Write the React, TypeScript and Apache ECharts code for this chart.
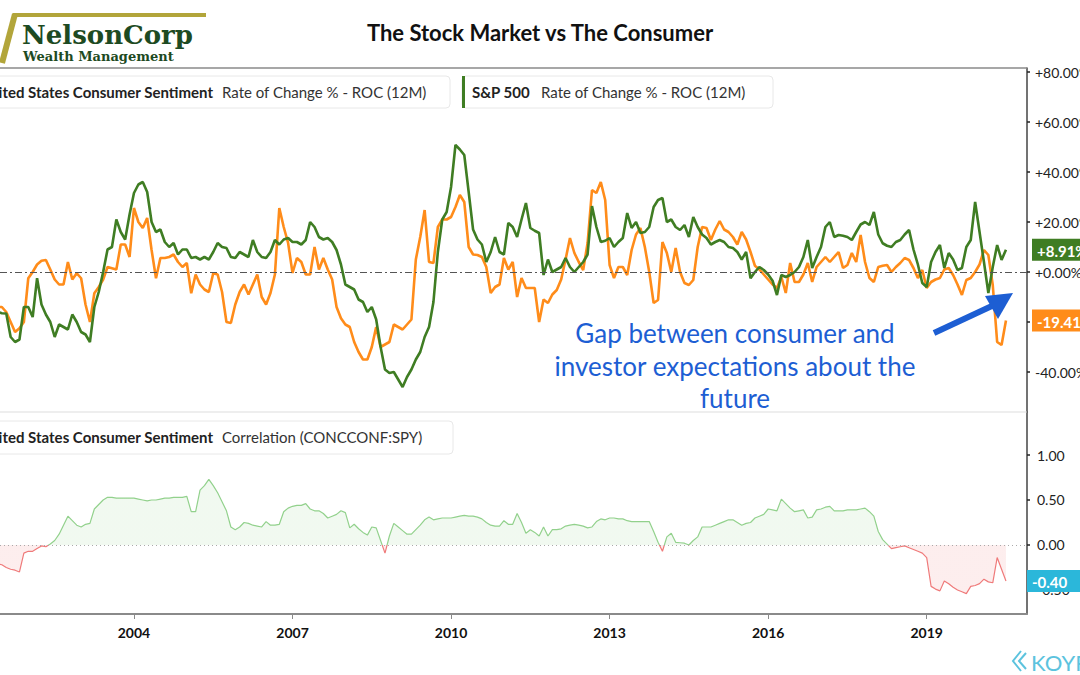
import React, { useEffect, useRef } from "react";
import * as echarts from "echarts";

// Monthly observations starting June 2001
const START_YEAR = 2001;
const START_MONTH = 6;

const xTickYears = [2004, 2007, 2010, 2013, 2016, 2019];
const rocTicks = [-40, -20, 0, 20, 40, 60, 80];
const rocLabels = [-40, 0, 20, 40, 60, 80]; // -20 sits under the value tag
const corrTicks = [-0.5, 0, 0.5, 1];

// United States Consumer Sentiment, Rate of Change % (12M)
const sentimentRoc = [
  -14, -14, -16, -20, -24, -22.5, -20, -2.5, 0, 3,
  4.5, 4.8, 1, -3, -5, -5, 4, -3, -0.5, -2.5,
  -13, -20, -8.5, -6, -3, 2, 1.5, 1, 11, 11,
  6, 25.6, 20, 17.6, 21.6, 8.8, -2.5, 5.6, 5.6, 6,
  7, 4, 2, 3.6, -8.5, -1, -5, -7, -8, -0.5,
  -1, -8, -20, -20.4, -13, -8, -5, -9, -5, -1,
  -10, -13, -8.4, -1, 25.6, 18, 11.6, -0.4, 5.6, 4,
  -1, -1, 10, 1, 5.6, 1, -3, -14, -18.5, -21,
  -22, -28, -32, -35, -35, -30, -22, -30, -29, -28,
  -21, -22, -23, -21, -19, 5, 14, 24.8, 4, 3.6,
  18, 21, 21, 22, 26, 30.8, 28, 10, 7, 6.8,
  6, 2, -8.4, -6, -5, 5.6, 1, 4, -10, -2.4,
  -6.4, -6.4, -6.4, -20, -11, -12.4, -9, -7.2, -3, 5,
  13.6, 7.6, 4, 0.8, 11.6, 32.8, 31.6, 36, 28.8, 2.8,
  -2.4, 2, 2, -1.2, 8.8, 15, 17.6, 10, 0, -12.4,
  -11.2, 12, 7.6, 0, 9.6, 0, -4.4, -5.2, -3.2, 10,
  18, 17.6, 12.8, 17, 20.4, 17, 16, 14, 11, 16,
  13, 8, 2.5, 1, -1, -3, -5, -6.4, -2, -8.4,
  3.6, -4, -4, -1, 3.6, -4, 2, 4, 6, 4,
  6, 8, 1.6, 2.8, 7.6, 4, 14.8, 4, -2.4, -4,
  2, 2.5, 2.8, 0, 2, 3.6, 5.6, 4.8, 1.6, -2.4,
  0.8, -6.4, -4, -3, -2.4, 1, 1.6, -1.2, -5, -9.2,
  -3.2, -2.4, 0, 3, 8.8, 6.8, -5.2, -28, -29.2, -19.41,
];

// S&P 500, Rate of Change % (12M)
const sp500Roc = [
  -16, -16.5, -16.6, -26, -28, -27, -14, -14, -18, -2.5,
  -13, -17, -20, -26, -21, -22, -23, -17, -20, -24,
  -25, -28, -14, -8, 0, 9, 10, 21, 16, 13,
  23, 31.6, 35, 36, 32, 20, 16, 17, 12, 10,
  11.6, 7, 9, 9, 5.6, 6, 5, 6, 5, 8,
  11.6, 10, 9.6, 6, 5.6, 8, 7, 6, 12.8, 8,
  6, 5.6, 8, 12.8, 11, 13, 13.6, 12, 12, 11,
  12.8, 20, 18, 14, 13, 13.6, 12, 8.8, 3, -5,
  -6, -7, -11, -12, -16, -14, -19, -30, -39, -40.4,
  -40, -43, -46, -42, -39, -35, -32, -26, -22, -12,
  8, 21, 24, 34, 50.8, 49, 46.8, 32, 17, 13,
  11, 4, 8, 14, 8, 7, 19.6, 18, 14, 21,
  27.6, 17.6, 16.5, 15.6, -1.2, 5, 0, 1, 2, 5.6,
  2, 0, 2, 4, 7, 26.4, 18, 12, 12.5, 13.6,
  10, 12, 13.6, 23.6, 17.6, 20, 15.6, 16, 18, 26,
  28.8, 29.6, 20, 21, 18, 16.8, 18.8, 14, 22, 18,
  15, 13.6, 11, 12, 12.8, 12, 10, 9.6, 8, 5,
  8, -2.5, 0, 2, 0.8, -1, -3.5, -9.2, -1.2, -2,
  -1.2, 0, 2, 6, 12.8, 1.6, 6, 10, 18, 20,
  14, 14.8, 14.5, 14, 12.8, 16, 19, 20, 18.8, 24,
  15, 11.5, 10.5, 10, 12, 12.8, 15, 16.8, 9, 3,
  -4.4, -6, 4, 8, 10.8, 1.6, 7.6, 5, 0.8, 1.6,
  10, 12.8, 28, 16, 4, -8.4, 2, 10.8, 4.8, 8.91,
];

// Correlation (CONCCONF:SPY)
const correlation = [
  -0.21, -0.22, -0.25, -0.27, -0.28, -0.30, -0.09, -0.07, -0.07, -0.04,
  -0.01, -0.02, 0.01, 0.05, 0.12, 0.22, 0.32, 0.27, 0.22, 0.20,
  0.23, 0.24, 0.40, 0.45, 0.50, 0.53, 0.53, 0.52, 0.52, 0.52,
  0.52, 0.52, 0.51, 0.50, 0.49, 0.50, 0.50, 0.51, 0.52, 0.52,
  0.53, 0.53, 0.53, 0.54, 0.37, 0.37, 0.61, 0.66, 0.73, 0.66,
  0.58, 0.48, 0.38, 0.20, 0.17, 0.20, 0.25, 0.24, 0.22, 0.21,
  0.20, 0.26, 0.22, 0.22, 0.23, 0.37, 0.41, 0.43, 0.44, 0.44,
  0.46, 0.40, 0.38, 0.38, 0.35, 0.30, 0.32, 0.34, 0.38, 0.36,
  0.19, 0.23, 0.18, 0.14, 0.11, 0.20, 0.19, 0.05, -0.09, 0.10,
  0.24, 0.20, 0.16, 0.12, 0.12, 0.17, 0.22, 0.28, 0.31, 0.28,
  0.29, 0.30, 0.30, 0.30, 0.31, 0.32, 0.33, 0.32, 0.32, 0.31,
  0.29, 0.25, 0.22, 0.21, 0.21, 0.27, 0.23, 0.23, 0.35, 0.25,
  0.13, 0.17, 0.14, 0.10, 0.20, 0.10, 0.17, 0.17, 0.18, 0.21,
  0.22, 0.23, 0.22, 0.21, 0.19, 0.20, 0.26, 0.29, 0.28, 0.30,
  0.30, 0.29, 0.29, 0.27, 0.26, 0.26, 0.26, 0.26, 0.26, 0.15,
  0.03, -0.07, 0.09, 0.13, 0.03, 0.025, 0.02, 0.0, 0.05, 0.09,
  0.20, 0.20, 0.20, 0.22, 0.24, 0.26, 0.28, 0.28, 0.25, 0.22,
  0.24, 0.25, 0.30, 0.32, 0.34, 0.40, 0.39, 0.38, 0.51, 0.46,
  0.41, 0.37, 0.38, 0.39, 0.30, 0.31, 0.39, 0.40, 0.42, 0.43,
  0.38, 0.38, 0.38, 0.39, 0.39, 0.39, 0.40, 0.41, 0.37, 0.32,
  0.15, 0.06, 0.01, -0.04, -0.03, -0.02, -0.01, -0.03, -0.05, -0.07,
  -0.09, -0.14, -0.46, -0.49, -0.51, -0.40, -0.43, -0.47, -0.50, -0.52,
  -0.54, -0.46, -0.45, -0.43, -0.38, -0.41, -0.42, -0.14, -0.27, -0.40,
];

const ORANGE = "#ff8c1a";
const GREEN = "#3f7d23";
const CYAN = "#2bb7da";
const BLUE = "#1d5ed3";
const CORR_POS = "#92d18c";
const CORR_NEG = "#ef7a7a";
const FONT = "Lato, 'Open Sans', sans-serif";
const SERIF = "'DejaVu Serif', 'Liberation Serif', serif";

const toPoints = (arr: number[]) =>
  arr.map((v, i) => [START_YEAR + (START_MONTH - 1) / 12 + i / 12, v]);

const txt = (x: number, y: number, text: string, extra: any = {}) => ({
  type: "text",
  z: 100,
  x,
  y,
  style: {
    text,
    fill: "#222",
    fontSize: 15,
    fontFamily: FONT,
    align: "left",
    verticalAlign: "middle",
    textAlign: "left",
    textVerticalAlign: "middle",
    ...extra,
  },
});

export default function App() {
  const ref = useRef<HTMLDivElement>(null);

  useEffect(() => {
    if (!ref.current) return;
    const chart = echarts.init(ref.current, null, { renderer: "svg" });

    const xMin = 2001.465;
    const xMax = 2020.898;

    const option: any = {
      animation: false,
      backgroundColor: "#ffffff",
      textStyle: { fontFamily: FONT },
      grid: [
        { left: 0, right: 53, top: 68, height: 344, containLabel: false, outerBoundsMode: "none" },
        { left: 0, right: 53, top: 412, height: 202, containLabel: false, outerBoundsMode: "none" },
      ],
      xAxis: [
        {
          type: "value",
          gridIndex: 0,
          min: xMin,
          max: xMax,
          axisLine: { show: false },
          axisTick: { show: false },
          axisLabel: { show: false },
          splitLine: { show: false },
        },
        {
          type: "value",
          gridIndex: 1,
          min: xMin,
          max: xMax,
          axisLine: { show: true, onZero: false, lineStyle: { color: "#8a8a8a", width: 2 } },
          axisTick: {
            show: true,
            customValues: xTickYears,
            length: 5,
            lineStyle: { color: "#8a8a8a", width: 1 },
          },
          axisLabel: {
            show: true,
            customValues: xTickYears,
            formatter: (v: number) => String(Math.round(v)),
            fontFamily: FONT,
            fontWeight: "bold",
            fontSize: 14,
            color: "#111",
            margin: 11,
          },
          splitLine: { show: false },
        },
      ],
      yAxis: [
        {
          type: "value",
          gridIndex: 0,
          position: "right",
          min: -56,
          max: 81.6,
          axisLine: { show: true, lineStyle: { color: "#444", width: 1.5 } },
          axisTick: {
            show: true,
            customValues: rocTicks,
            length: 3,
            lineStyle: { color: "#222", width: 1.5 },
          },
          axisLabel: {
            show: true,
            customValues: rocLabels,
            formatter: (v: number) => (v >= 0 ? "+" : "") + v.toFixed(2) + "%",
            fontFamily: FONT,
            fontSize: 14,
            color: "#222",
            margin: 8,
          },
          splitLine: { show: false },
        },
        {
          type: "value",
          gridIndex: 1,
          position: "right",
          min: -0.767,
          max: 1.478,
          axisLine: { show: true, lineStyle: { color: "#444", width: 1.5 } },
          axisTick: {
            show: true,
            customValues: corrTicks,
            length: 3,
            lineStyle: { color: "#222", width: 1.5 },
          },
          axisLabel: {
            show: true,
            customValues: corrTicks,
            formatter: (v: number) => v.toFixed(2),
            fontFamily: FONT,
            fontSize: 14,
            color: "#222",
            margin: 10,
          },
          splitLine: { show: false },
        },
      ],
      series: [
        {
          id: "sent",
          name: "United States Consumer Sentiment",
          type: "line",
          xAxisIndex: 0,
          yAxisIndex: 0,
          data: toPoints(sentimentRoc),
          showSymbol: false,
          symbol: "none",
          lineStyle: { color: ORANGE, width: 2.6 },
          itemStyle: { color: ORANGE },
          z: 3,
          markLine: {
            silent: true,
            symbol: "none",
            label: { show: false },
            lineStyle: { color: "#555", type: [7, 3, 2, 3], width: 1 },
            data: [{ yAxis: 0 }],
          },
        },
        {
          id: "spx",
          name: "S&P 500",
          type: "line",
          xAxisIndex: 0,
          yAxisIndex: 0,
          data: toPoints(sp500Roc),
          showSymbol: false,
          symbol: "none",
          lineStyle: { color: GREEN, width: 2.6 },
          itemStyle: { color: GREEN },
          z: 4,
        },
        {
          id: "corr",
          name: "Correlation",
          type: "line",
          xAxisIndex: 1,
          yAxisIndex: 1,
          data: toPoints(correlation),
          showSymbol: false,
          symbol: "none",
          lineStyle: { width: 1.2, color: CORR_POS },
          areaStyle: { opacity: 0.13, color: CORR_POS },
          markLine: {
            silent: true,
            symbol: "none",
            label: { show: false },
            lineStyle: { color: "#aaa", type: [1, 3], width: 1 },
            data: [{ yAxis: 0 }],
          },
        },
      ],
    };

    chart.setOption(option);

    // split colour at the correlation zero line, located through the axis scale
    const yTop = chart.convertToPixel({ yAxisIndex: 1 }, 1.478) as number;
    const yBot = chart.convertToPixel({ yAxisIndex: 1 }, -0.767) as number;
    const yZero = chart.convertToPixel({ yAxisIndex: 1 }, 0) as number;
    const f = (yZero - yTop) / (yBot - yTop);
    const split = (pos: string, neg: string) =>
      new echarts.graphic.LinearGradient(
        0, yTop, 0, yBot,
        [
          { offset: 0, color: pos },
          { offset: f, color: pos },
          { offset: f, color: neg },
          { offset: 1, color: neg },
        ],
        true
      );

    const last = sp500Roc.length - 1;
    const yGreen = chart.convertToPixel({ yAxisIndex: 0 }, sp500Roc[last]) as number;
    const yOrange = chart.convertToPixel({ yAxisIndex: 0 }, sentimentRoc[last]) as number;
    const yCorr = chart.convertToPixel({ yAxisIndex: 1 }, correlation[last]) as number;

    const tag = (x: number, y: number, w: number, color: string, label: string) => [
      { type: "rect", z: 100, shape: { x, y: y - 11, width: w, height: 22 }, style: { fill: color } },
      txt(x + 5, y + 1, label, { fill: "#fff", fontSize: 15, fontWeight: "bold" }),
    ];

    const elements: any[] = [
      // Logo
      { type: "line", z: 100, shape: { x1: 13, y1: 15, x2: 206, y2: 15 }, style: { stroke: "#b2a53a", lineWidth: 4 } },
      { type: "line", z: 100, shape: { x1: 15, y1: 14, x2: 2, y2: 63 }, style: { stroke: "#b2a53a", lineWidth: 6 } },
      txt(22, 35, "NelsonCorp", {
        fill: "#1d4a22",
        fontSize: 26,
        fontWeight: "bold",
        fontFamily: SERIF,
      }),
      txt(23, 56, "Wealth Management", {
        fill: "#1d4a22",
        fontSize: 13,
        fontWeight: "bold",
        fontFamily: SERIF,
      }),
      // Title
      txt(540, 32, "The Stock Market vs The Consumer", {
        fill: "#111",
        fontSize: 22,
        fontWeight: "bold",
        align: "center",
        textAlign: "center",
      }),
      // frame lines
      { type: "line", z: 100, shape: { x1: 0, y1: 68, x2: 1027, y2: 68 }, style: { stroke: "#8a8a8a", lineWidth: 1.5 } },
      { type: "line", z: 100, shape: { x1: 0, y1: 412, x2: 1027, y2: 412 }, style: { stroke: "#dddddd", lineWidth: 1 } },
      // Legend box 1
      { type: "rect", z: 100, shape: { x: -220, y: 76, width: 670, height: 32, r: 4 }, style: { fill: "#fff", stroke: "#e8e8e8", lineWidth: 1 } },
      txt(213, 92, "United States Consumer Sentiment", { fontWeight: "bold", align: "right", textAlign: "right", fill: "#222" }),
      txt(222, 92, "Rate of Change % - ROC (12M)", { fill: "#333" }),
      // Legend box 2
      { type: "rect", z: 100, shape: { x: 462, y: 76, width: 311, height: 32, r: 4 }, style: { fill: "#fff", stroke: "#e8e8e8", lineWidth: 1 } },
      { type: "rect", z: 101, shape: { x: 462, y: 76, width: 3, height: 32 }, style: { fill: GREEN } },
      txt(472, 92, "S&P 500", { fontWeight: "bold", fill: "#222" }),
      txt(541, 92, "Rate of Change % - ROC (12M)", { fill: "#333" }),
      // Legend box 3
      { type: "rect", z: 100, shape: { x: -220, y: 421, width: 673, height: 33, r: 4 }, style: { fill: "#fff", stroke: "#e8e8e8", lineWidth: 1 } },
      txt(213, 437, "United States Consumer Sentiment", { fontWeight: "bold", align: "right", textAlign: "right", fill: "#222" }),
      txt(222, 437, "Correlation (CONCCONF:SPY)", { fill: "#333" }),
      // Annotation
      txt(735, 333, "Gap between consumer and", { fill: BLUE, fontSize: 26, align: "center", textAlign: "center" }),
      txt(735, 366, "investor expectations about the", { fill: BLUE, fontSize: 26, align: "center", textAlign: "center" }),
      txt(735, 398, "future", { fill: BLUE, fontSize: 26, align: "center", textAlign: "center" }),
      { type: "line", z: 100, shape: { x1: 934, y1: 333, x2: 994, y2: 305 }, style: { stroke: BLUE, lineWidth: 6 } },
      { type: "polygon", z: 100, shape: { points: [[1013, 293], [985, 296], [998, 319]] }, style: { fill: BLUE } },
      // Value tags
      ...tag(1032, yGreen, 60, GREEN, "+" + sp500Roc[last].toFixed(2) + "%"),
      ...tag(1032, yOrange, 60, ORANGE, sentimentRoc[last].toFixed(2) + "%"),
      ...tag(1027, yCorr, 60, CYAN, correlation[last].toFixed(2)),
      // Koyfin mark
      { type: "polyline", z: 100, shape: { points: [[1021, 651], [1013, 661], [1021, 671]] }, style: { stroke: "#5cc3de", lineWidth: 2, fill: "none" } },
      { type: "polyline", z: 100, shape: { points: [[1026, 653], [1019, 661], [1026, 669]] }, style: { stroke: "#5cc3de", lineWidth: 2, fill: "none" } },
      txt(1031, 662, "KOYFIN", { fill: "#5cc3de", fontSize: 22 }),
    ];

    chart.setOption({
      series: [
        { id: "corr", lineStyle: { color: split(CORR_POS, CORR_NEG) }, areaStyle: { color: split(CORR_POS, CORR_NEG), opacity: 0.13 } },
      ],
      graphic: { elements },
    });

    return () => {
      chart.dispose();
    };
  }, []);

  return (
    <div
      ref={ref}
      style={{ position: "fixed", left: 0, top: 0, width: 1080, height: 675, background: "#fff" }}
    />
  );
}
